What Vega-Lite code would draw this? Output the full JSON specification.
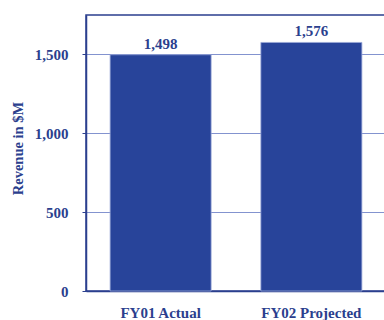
{
  "$schema": "https://vega.github.io/schema/vega-lite/v6.json",
  "width": 300,
  "height": 276,
  "autosize": {"type": "none"},
  "padding": {"left": 86, "top": 15, "right": 0, "bottom": 29},
  "background": "white",
  "config": {
    "font": "Liberation Serif",
    "view": {"stroke": "#2b3f8e", "strokeWidth": 1.5}
  },
  "data": {
    "values": [
      {"year": "FY01 Actual", "revenue": 1498},
      {"year": "FY02 Projected", "revenue": 1576}
    ]
  },
  "encoding": {
    "x": {
      "field": "year",
      "type": "nominal",
      "sort": null,
      "scale": {"paddingInner": 0.33, "paddingOuter": 0.16},
      "axis": {
        "title": null,
        "labelAngle": 0,
        "labelFont": "Liberation Serif",
        "labelFontWeight": "bold",
        "labelFontSize": 15,
        "labelColor": "#2b3f8e",
        "labelPadding": 14,
        "ticks": false,
        "domainColor": "#2b3f8e",
        "domainWidth": 1.5
      }
    },
    "y": {
      "field": "revenue",
      "type": "quantitative",
      "scale": {"domain": [0, 1750], "nice": false},
      "axis": {
        "title": "Revenue in $M",
        "titleFont": "Liberation Serif",
        "titleFontWeight": "bold",
        "titleFontSize": 14.5,
        "titleColor": "#2b3f8e",
        "titleAngle": -90,
        "titleX": -68,
        "titleY": 133,
        "titleAlign": "center",
        "titleBaseline": "middle",
        "values": [0, 500, 1000, 1500],
        "format": ",d",
        "labelFont": "Liberation Serif",
        "labelFontWeight": "bold",
        "labelFontSize": 15,
        "labelColor": "#2b3f8e",
        "labelPadding": 14,
        "tickSize": 4,
        "tickColor": "#2b3f8e",
        "domainColor": "#2b3f8e",
        "domainWidth": 1.5,
        "grid": true,
        "gridColor": "#8393cf",
        "gridWidth": 1
      }
    }
  },
  "layer": [
    {
      "mark": {"type": "bar", "color": "#28449a", "stroke": "#9aa8d8", "strokeWidth": 0.8}
    },
    {
      "mark": {
        "type": "text",
        "baseline": "bottom",
        "dy": -3,
        "font": "Liberation Serif",
        "fontWeight": "bold",
        "fontSize": 15,
        "color": "#2b3f8e"
      },
      "encoding": {
        "text": {"field": "revenue", "type": "quantitative", "format": ","}
      }
    }
  ]
}
